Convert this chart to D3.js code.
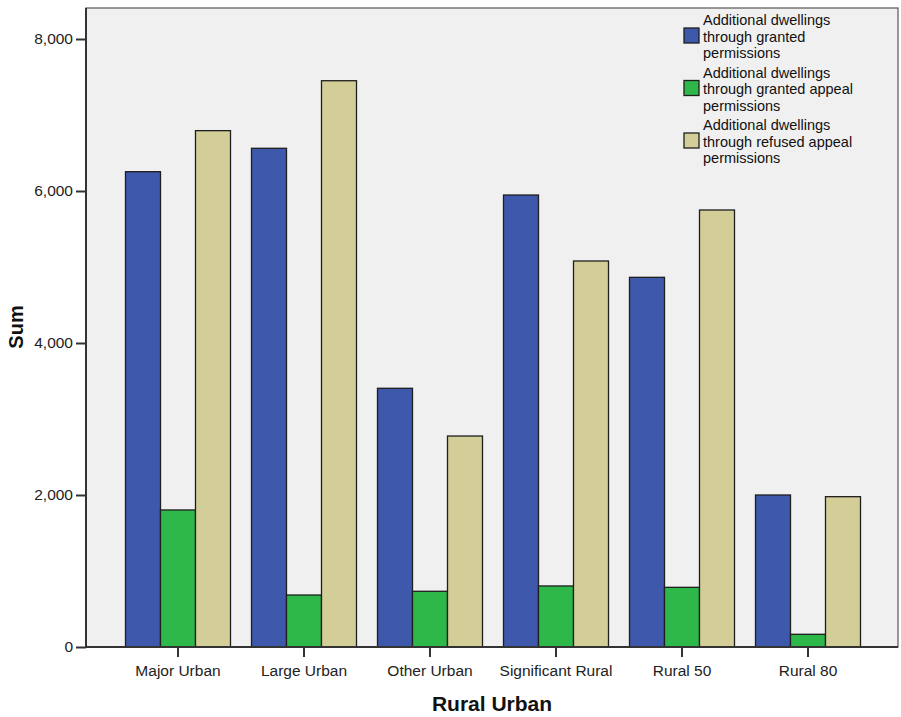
<!DOCTYPE html>
<html><head><meta charset="utf-8">
<script src="https://cdn.jsdelivr.net/npm/d3@7"></script>
<style>
html,body{margin:0;padding:0;background:#fff;}
svg{display:block;font-family:"Liberation Sans",Arial,sans-serif;}
</style></head>
<body>
<svg id="chart" width="901" height="717"></svg>
<script>
const categories = ["Major Urban","Large Urban","Other Urban","Significant Rural","Rural 50","Rural 80"];
const seriesNames = [
  ["Additional dwellings","through granted","permissions"],
  ["Additional dwellings","through granted appeal","permissions"],
  ["Additional dwellings","through refused appeal","permissions"]
];
const granted = [6254, 6562, 3404, 5947, 4864, 2000];
const grantedAppeal = [1803, 684, 733, 803, 785, 167];
const refusedAppeal = [6794, 7451, 2776, 5079, 5750, 1978];
const yTicks = [0, 2000, 4000, 6000, 8000];
const colors = ["#3e58ac", "#2fb84a", "#d3ce97"];

const series = [granted, grantedAppeal, refusedAppeal];
const svg = d3.select("#chart");
const plot = {left: 86, top: 8, right: 898, bottom: 647};

svg.append("rect").attr("x", plot.left).attr("y", plot.top)
  .attr("width", plot.right - plot.left).attr("height", plot.bottom - plot.top)
  .attr("fill", "#f0f0f0");

const y = d3.scaleLinear().domain([0, 8000]).range([647, 39]);
const x = d3.scaleBand().domain(categories).range([115, 871]).paddingInner(1/6).paddingOuter(1/12);
const xs = d3.scaleBand().domain(d3.range(3)).range([0, x.bandwidth()]);

const groups = svg.append("g").selectAll("g").data(categories).join("g")
  .attr("transform", d => `translate(${x(d)},0)`);
groups.selectAll("rect").data((c, i) => series.map((s, k) => ({k, v: s[i]}))).join("rect")
  .attr("x", d => xs(d.k)).attr("y", d => y(d.v))
  .attr("width", xs.bandwidth()).attr("height", d => y(0) - y(d.v))
  .attr("fill", d => colors[d.k]).attr("stroke", "#1e1e1e").attr("stroke-width", 1.3);

// frame
svg.append("rect").attr("x", plot.left).attr("y", plot.top)
  .attr("width", plot.right - plot.left).attr("height", plot.bottom - plot.top)
  .attr("fill", "none").attr("stroke", "#555").attr("stroke-width", 1.2);
svg.append("line").attr("x1", plot.left).attr("x2", plot.left).attr("y1", plot.top).attr("y2", plot.bottom)
  .attr("stroke", "#333").attr("stroke-width", 2);
svg.append("line").attr("x1", plot.left).attr("x2", plot.right).attr("y1", plot.bottom).attr("y2", plot.bottom)
  .attr("stroke", "#333").attr("stroke-width", 2);

// y axis
const yAxis = d3.axisLeft(y).tickValues(yTicks).tickSize(10).tickPadding(3).tickFormat(d3.format(","));
const gy = svg.append("g").attr("transform", `translate(${plot.left},0)`).call(yAxis);
gy.select(".domain").remove();
gy.selectAll(".tick line").attr("stroke", "#333").attr("stroke-width", 2);
gy.selectAll(".tick text").attr("font-size", 15.5).attr("fill", "#222").attr("font-family", "Liberation Sans, Arial, sans-serif");

// x axis
const xAxis = d3.axisBottom(x).tickSize(10).tickPadding(8);
const gx = svg.append("g").attr("transform", `translate(0,${plot.bottom})`).call(xAxis);
gx.select(".domain").remove();
gx.selectAll(".tick line").attr("stroke", "#333").attr("stroke-width", 2);
gx.selectAll(".tick text").attr("font-size", 15.5).attr("fill", "#222").attr("font-family", "Liberation Sans, Arial, sans-serif");

// axis titles
svg.append("text").attr("x", 492).attr("y", 711).attr("text-anchor", "middle")
  .attr("font-size", 21).attr("font-weight", "bold").attr("fill", "#111").text("Rural Urban");
svg.append("text").attr("transform", "translate(23,327) rotate(-90)").attr("text-anchor", "middle")
  .attr("font-size", 20).attr("font-weight", "bold").attr("fill", "#111").text("Sum");

// legend
const leg = svg.append("g");
seriesNames.forEach((lines, k) => {
  const top = 27 + k * 52.5;
  leg.append("rect").attr("x", 684).attr("y", top + 1).attr("width", 15).attr("height", 15)
    .attr("fill", colors[k]).attr("stroke", "#1e1e1e").attr("stroke-width", 1.3);
  const t = leg.append("text").attr("x", 703).attr("y", top - 2)
    .attr("font-size", 14.5).attr("fill", "#111");
  lines.forEach((s, j) => {
    t.append("tspan").attr("x", 703).attr("dy", j === 0 ? 0 : 16.5).text(s);
  });
});
</script>
</body></html>
